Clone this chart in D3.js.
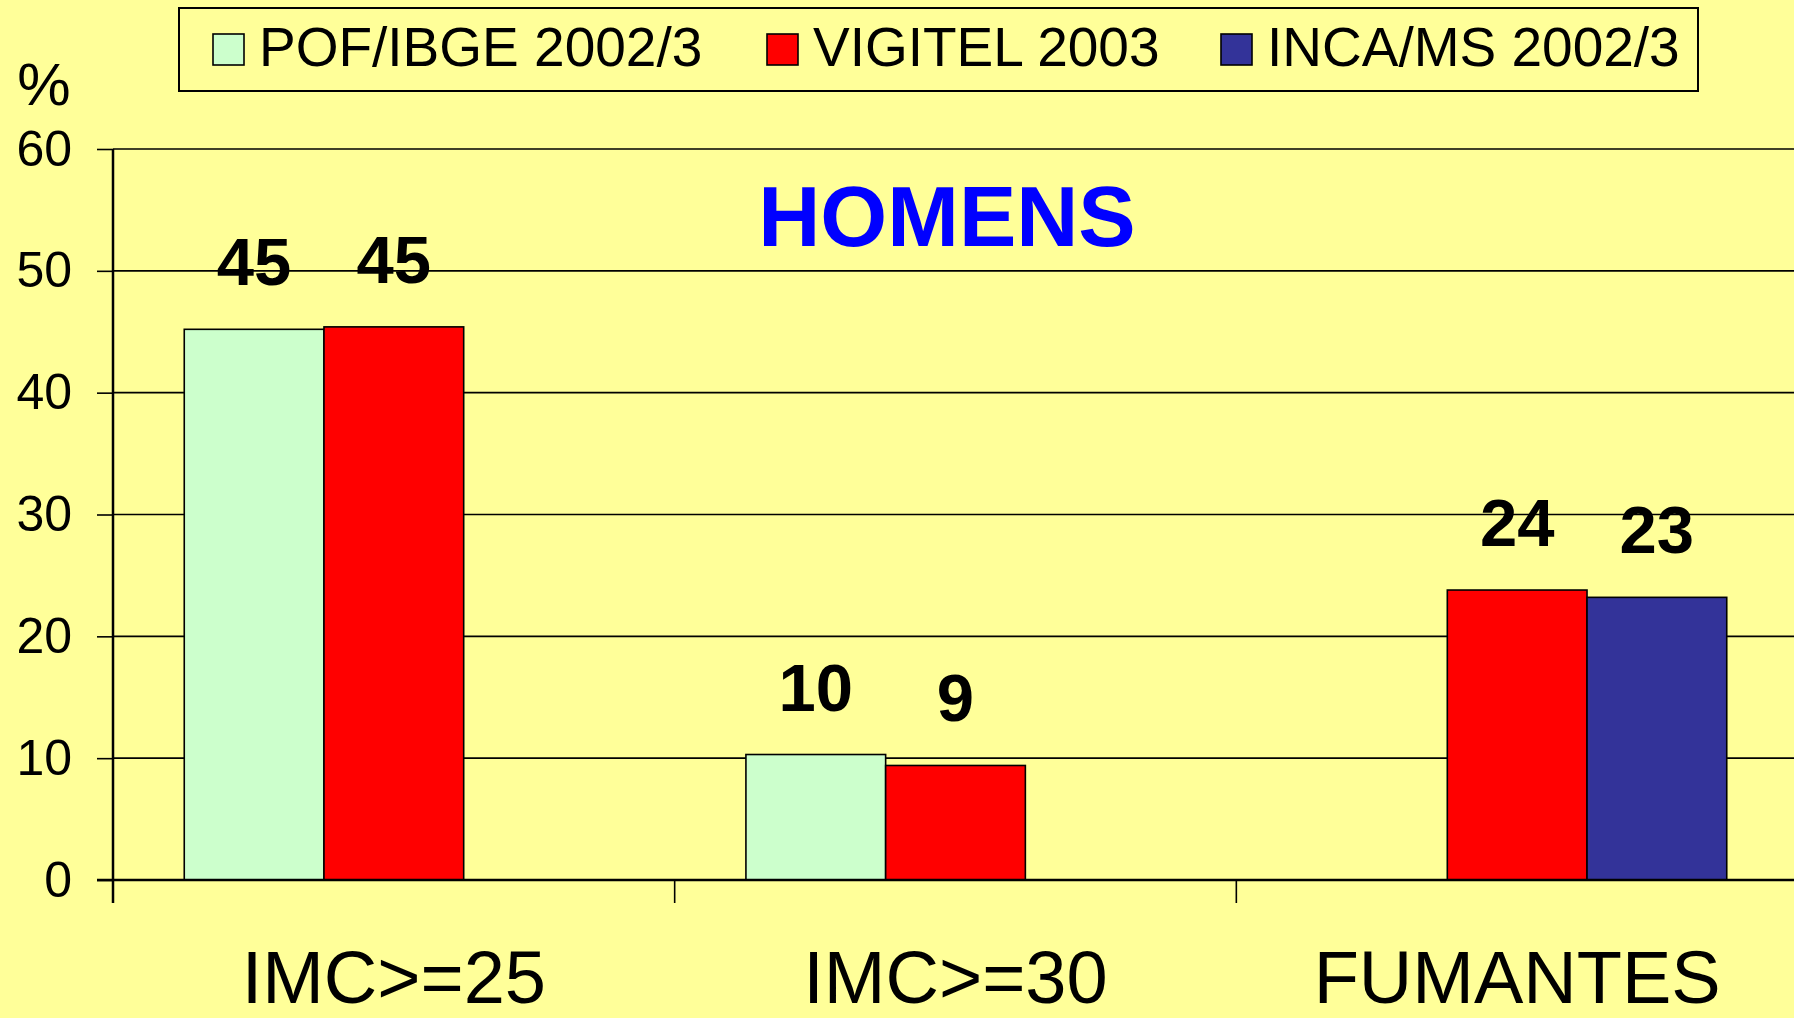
<!DOCTYPE html>
<html lang="pt">
<head>
<meta charset="UTF-8" />
<title>HOMENS</title>
<script src="https://cdn.jsdelivr.net/npm/d3@7/dist/d3.min.js"></script>
<style>
    body { margin: 0; background: #FFFF99; overflow: hidden; }
    svg { display: block; font-family: "Liberation Sans", Arial, sans-serif; }
</style>
</head>
<body>
<svg id="chart"></svg>
<script>
    // data
    const categories = ["IMC>=25", "IMC>=30", "FUMANTES"];
    const seriesNames = ["POF/IBGE 2002/3", "VIGITEL 2003", "INCA/MS 2002/3"];
    const seriesColors = ["#CCFFCC", "#FF0000", "#333399"];
    const pofValues = [45.2, 10.3, null];
    const vigitelValues = [45.4, 9.4, 23.8];
    const incaValues = [null, null, 23.2];
    const yTicks = [0, 10, 20, 30, 40, 50, 60];

    const width = 1794, height = 1018;
    const plot = { left: 113, top: 149, bottom: 880, right: 1798 };

    const svg = d3.select("#chart").attr("width", width).attr("height", height);

    svg.append("rect").attr("width", width).attr("height", height).attr("fill", "#FFFF99");

    const allSeries = [pofValues, vigitelValues, incaValues];
    const rows = [];
    categories.forEach((c, i) => {
        allSeries.forEach((vals, s) => {
            if (vals[i] != null) rows.push({ cat: c, s: s, value: vals[i] });
        });
    });

    const x0 = d3.scaleBand().domain(categories).range([plot.left, plot.right]).padding(0);
    const x1 = d3.scaleBand().domain(d3.range(seriesNames.length))
        .range([0, x0.bandwidth()]).paddingInner(0).paddingOuter(0.51);
    const y = d3.scaleLinear().domain([0, 60]).range([plot.bottom, plot.top]);

    // gridlines
    svg.append("g").selectAll("line")
        .data(yTicks.filter(t => t > 0))
        .enter().append("line")
        .attr("x1", plot.left).attr("x2", width)
        .attr("y1", d => y(d)).attr("y2", d => y(d))
        .attr("stroke", "#000").attr("stroke-width", 1.6);

    // y axis
    const yAxis = svg.append("g")
        .attr("transform", `translate(${plot.left},0)`)
        .call(d3.axisLeft(y).tickValues(yTicks).tickSize(16).tickPadding(25));
    yAxis.select(".domain").remove();
    yAxis.selectAll(".tick line").attr("stroke", "#000").attr("stroke-width", 1.6);
    yAxis.selectAll(".tick text")
        .attr("fill", "#000")
        .style("font-size", "50px")
        .style("font-family", "'Liberation Sans', Arial, sans-serif");

    svg.append("line")
        .attr("x1", plot.left).attr("x2", plot.left)
        .attr("y1", plot.top).attr("y2", plot.bottom + 23)
        .attr("stroke", "#000").attr("stroke-width", 2.5);

    svg.append("text")
        .attr("x", 44).attr("y", 105)
        .attr("text-anchor", "middle")
        .style("font-size", "60px")
        .text("%");

    // bars
    svg.append("g").selectAll("rect")
        .data(rows)
        .enter().append("rect")
        .attr("x", d => x0(d.cat) + x1(d.s))
        .attr("y", d => y(d.value))
        .attr("width", x1.bandwidth())
        .attr("height", d => y(0) - y(d.value))
        .attr("fill", d => seriesColors[d.s])
        .attr("stroke", "#000").attr("stroke-width", 1.6);

    svg.append("g").selectAll("text")
        .data(rows)
        .enter().append("text")
        .attr("x", d => x0(d.cat) + x1(d.s) + x1.bandwidth() / 2)
        .attr("y", d => y(d.value) - 44)
        .attr("text-anchor", "middle")
        .style("font-size", "67px")
        .style("font-weight", "bold")
        .text(d => Math.round(d.value));

    // x axis
    svg.append("line")
        .attr("x1", plot.left - 16).attr("x2", width)
        .attr("y1", plot.bottom).attr("y2", plot.bottom)
        .attr("stroke", "#000").attr("stroke-width", 2.5);

    svg.append("g").selectAll("line")
        .data(categories.slice(1))
        .enter().append("line")
        .attr("x1", d => x0(d)).attr("x2", d => x0(d))
        .attr("y1", plot.bottom).attr("y2", plot.bottom + 23)
        .attr("stroke", "#000").attr("stroke-width", 1.6);

    svg.append("g").selectAll("text")
        .data(categories)
        .enter().append("text")
        .attr("x", d => x0(d) + x0.bandwidth() / 2)
        .attr("y", 1003)
        .attr("text-anchor", "middle")
        .style("font-size", "74px")
        .text(d => d);

    // title
    svg.append("text")
        .attr("x", 947).attr("y", 246)
        .attr("text-anchor", "middle")
        .attr("fill", "#0000FF")
        .style("font-size", "86px")
        .style("font-weight", "bold")
        .text("HOMENS");

    // legend
    const legend = svg.append("g");
    legend.append("rect")
        .attr("x", 179).attr("y", 8).attr("width", 1519).attr("height", 83)
        .attr("fill", "#FFFF99").attr("stroke", "#000").attr("stroke-width", 2);

    const legendX = [213, 767, 1221];
    const items = legend.selectAll("g.item")
        .data(seriesNames)
        .enter().append("g")
        .attr("class", "item")
        .attr("transform", (d, i) => `translate(${legendX[i]},0)`);
    items.append("rect")
        .attr("x", 0).attr("y", 34).attr("width", 31).attr("height", 31)
        .attr("fill", (d, i) => seriesColors[i])
        .attr("stroke", "#000").attr("stroke-width", 1.6);
    items.append("text")
        .attr("x", 46).attr("y", 66)
        .style("font-size", "55px")
        .text(d => d);
</script>
</body>
</html>
